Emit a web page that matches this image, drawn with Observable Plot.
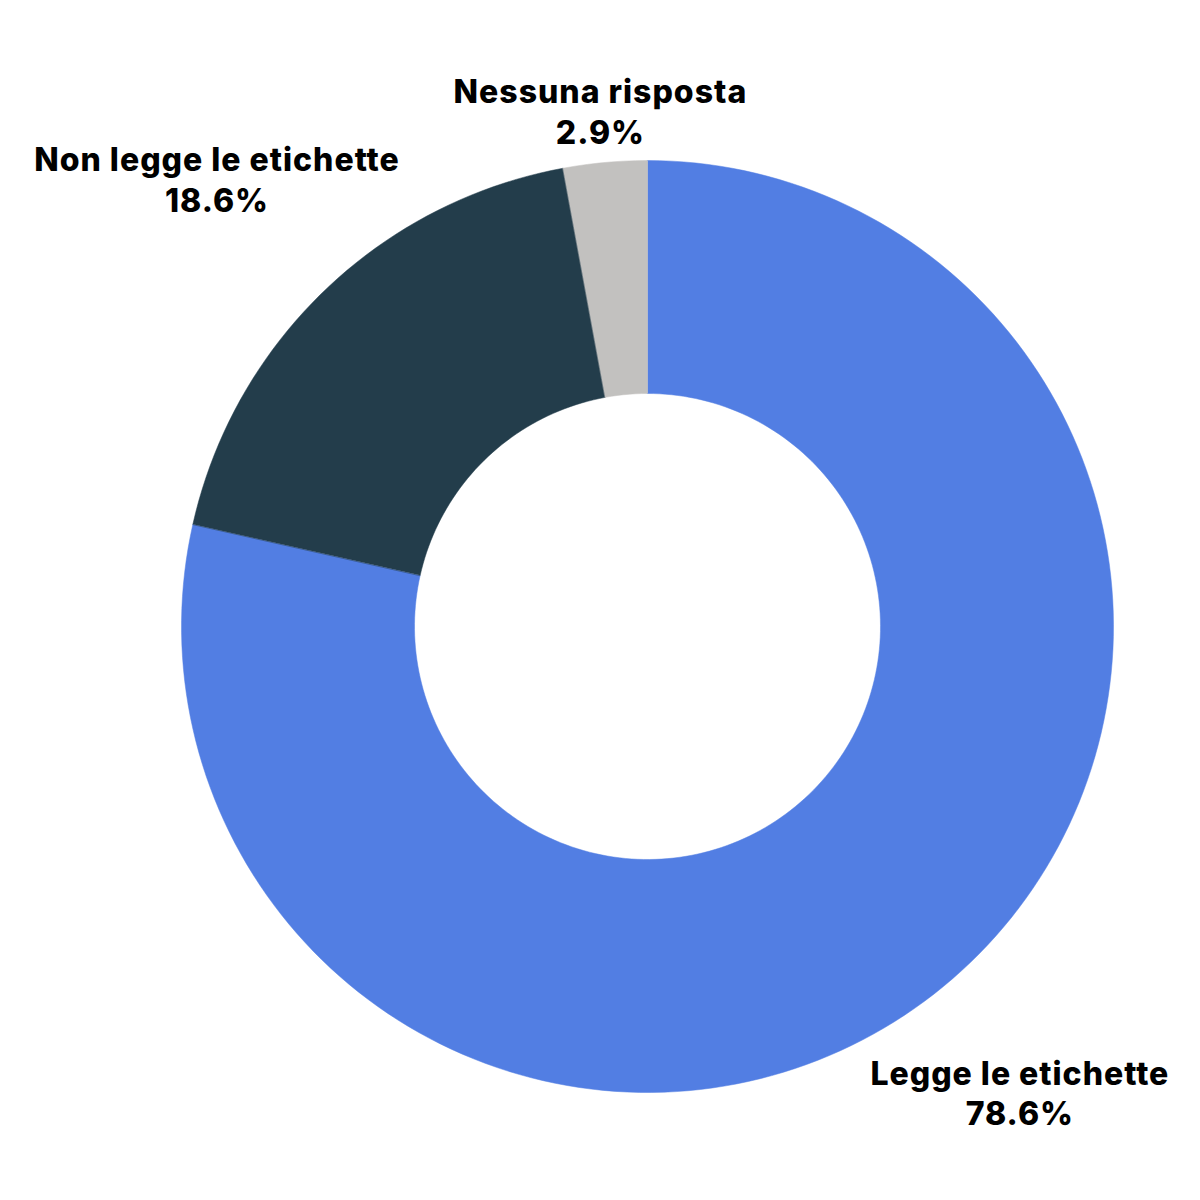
<!DOCTYPE html>
<html>
<head>
<meta charset="utf-8">
<script src="https://cdn.jsdelivr.net/npm/d3@7"></script>
<script src="https://cdn.jsdelivr.net/npm/@observablehq/plot@0.6"></script>
<style>
  html, body { margin: 0; padding: 0; background: #fff; }
  #chart { width: 1200px; height: 1200px; }
  #chart svg text { letter-spacing: 1px; }
</style>
</head>
<body>
<div id="chart"></div>
<script>
const categories = ["Legge le etichette", "Non legge le etichette", "Nessuna risposta"];
const percentages = [78.6, 18.6, 2.9];
const colors = ["#527EE3", "#233D4B", "#C2C1BF"];
const labelRadius = [1.279, 1.333, 1.112];

const innerRatio = 0.5;
const total = d3.sum(percentages);
const steps = 240;

// build slice polygons (outer arc then inner arc back) from data
const polys = [];
const labels = [];
let acc = 0;
categories.forEach((name, i) => {
  const a0 = acc / total * 2 * Math.PI;
  acc += percentages[i];
  const a1 = acc / total * 2 * Math.PI;
  const n = Math.max(2, Math.ceil(steps * (a1 - a0) / (2 * Math.PI)));
  for (let k = 0; k <= n; k++) {
    const a = a0 + (a1 - a0) * k / n;
    polys.push({name, x: Math.sin(a), y: Math.cos(a)});
  }
  for (let k = n; k >= 0; k--) {
    const a = a0 + (a1 - a0) * k / n;
    polys.push({name, x: innerRatio * Math.sin(a), y: innerRatio * Math.cos(a)});
  }
  const am = (a0 + a1) / 2;
  labels.push({
    name,
    text: `${name}\n${percentages[i].toFixed(1)}%`,
    x: labelRadius[i] * Math.sin(am),
    y: labelRadius[i] * Math.cos(am)
  });
});

const R = 466;
const chart = Plot.plot({
  width: 1200,
  height: 1200,
  margin: 0,
  x: {domain: [-647 / R, 553 / R], axis: null},
  y: {domain: [-574 / R, 626 / R], axis: null},
  color: {domain: categories, range: colors},
  style: {background: "#fff"},
  marks: [
    Plot.line(polys, {x: "x", y: "y", z: "name", fill: "name", stroke: "name", strokeWidth: 0.5, curve: "linear-closed"}),
    Plot.text(labels, {
      x: "x", y: "y", text: "text",
      fontSize: 32, fontWeight: 800, lineHeight: 1.28,
      fill: "#000", textAnchor: "middle", lineAnchor: "middle",
      fontFamily: "Inter, 'Open Sans', sans-serif"
    })
  ]
});
document.getElementById("chart").appendChild(chart);
</script>
</body>
</html>
